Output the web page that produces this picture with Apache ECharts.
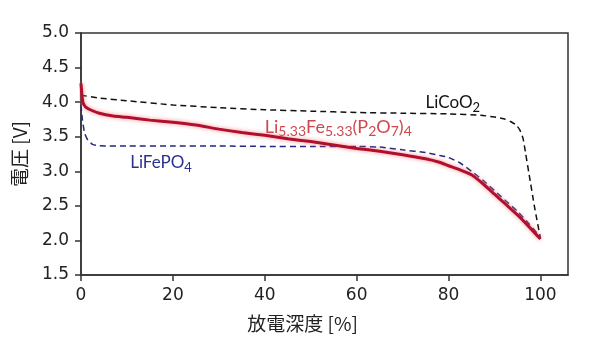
<!DOCTYPE html>
<html><head><meta charset="utf-8">
<script src="https://cdn.jsdelivr.net/npm/echarts@6/dist/echarts.min.js"></script>
<style>html,body{margin:0;padding:0;background:#fff}#c{width:591px;height:341px}</style>
</head><body><div id="c"></div>
<script>
// Discharge depth [%] vs voltage [V]
const licoo2 = [[0,4.10],[4,4.06],[10,4.02],[20,3.96],[30,3.92],[40,3.89],[50,3.87],[60,3.85],[70,3.84],[80,3.83],[87,3.81],[90,3.785],[92,3.76],[93.5,3.72],[94.7,3.67],[95.5,3.60],[96.2,3.48],[96.8,3.25],[97.5,2.97],[98.7,2.49],[100,2.03]];
const lfp = [[0,3.96],[0.3,3.75],[0.8,3.55],[1.5,3.45],[2.5,3.39],[4,3.37],[10,3.365],[20,3.365],[30,3.365],[40,3.36],[50,3.36],[60,3.36],[65,3.35],[70,3.31],[75,3.27],[78,3.23],[80,3.20],[82.5,3.12],[85,3.00],[87.5,2.87],[90,2.72],[92.5,2.57],[95,2.42],[97.5,2.24],[100,2.05]];
const lfpo = [[0,4.27],[0.4,4.00],[1,3.93],[2,3.89],[4,3.84],[7,3.80],[10,3.78],[15,3.74],[20,3.71],[25,3.67],[30,3.61],[35,3.56],[40,3.52],[45,3.47],[50,3.43],[55,3.38],[60,3.33],[65,3.29],[70,3.24],[75,3.18],[78,3.13],[80,3.08],[82.5,3.02],[85,2.95],[87.5,2.82],[90,2.67],[92.5,2.52],[95,2.37],[97.5,2.20],[100,2.02]];
const xTicks = [0,20,40,60,80,100];
const yTicks = [1.5,2.0,2.5,3.0,3.5,4.0,4.5,5.0];
const labelPos = { licoo2: [75, 3.99], lfpo: [40, 3.645], lfp: [10.7, 3.12] };

const chart = echarts.init(document.getElementById('c'), null, {renderer:'canvas'});
const axisCol = '#333';
const lineBase = { type: 'line', showSymbol: false, smooth: 0.2 };
chart.setOption({
  animation: false,
  grid: { left: 81, right: 23, top: 33, bottom: 66, show: true, borderColor: axisCol, borderWidth: 1.5 },
  xAxis: { type: 'value', min: 0, max: 106,
    name: '放電深度 [%]', nameLocation: 'middle', nameGap: 39,
    nameTextStyle: { fontFamily: 'Noto Sans CJK JP', fontSize: 19, color: '#222', padding: [0, 44, 0, 0] },
    axisLine: { show: true, lineStyle: { color: axisCol, width: 1.5 } },
    axisTick: { show: true, inside: false, length: 6, customValues: xTicks, lineStyle: { color: axisCol, width: 1.5 } },
    axisLabel: { customValues: xTicks, margin: 12, fontFamily: 'DejaVu Sans', fontSize: 17, color: '#222' },
    splitLine: { show: false } },
  yAxis: { type: 'value', min: 1.5, max: 5.0, interval: 0.5,
    name: '電圧 [V]', nameLocation: 'middle', nameGap: 52, nameRotate: 90,
    nameTextStyle: { fontFamily: 'Noto Sans CJK JP', fontSize: 19, color: '#222' },
    axisLine: { show: true, lineStyle: { color: axisCol, width: 1.5 } },
    axisTick: { show: true, inside: false, length: 6, customValues: yTicks, lineStyle: { color: axisCol, width: 1.5 } },
    axisLabel: { customValues: yTicks, margin: 12, fontFamily: 'DejaVu Sans', fontSize: 17, color: '#222', formatter: v => v.toFixed(1) },
    splitLine: { show: false } },
  series: [
    Object.assign({ name: 'LiCoO2', data: licoo2, lineStyle: { color: '#111', width: 1.5, type: [6, 4] } }, lineBase),
    Object.assign({ name: 'LiFePO4', data: lfp, lineStyle: { color: '#1f2a80', width: 1.5, type: [6, 4] } }, lineBase),
    Object.assign({ name: 'Li5.33Fe5.33(P2O7)4', data: lfpo,
      lineStyle: { color: '#b01030', width: 3, shadowBlur: 4, shadowColor: 'rgba(255,110,110,0.8)' } }, lineBase)
  ]
});

function ann(pos, text, color, fs, sfs) {
  const p = chart.convertToPixel({ gridIndex: 0 }, pos);
  return { type: 'text', x: p[0], y: p[1], silent: true,
    style: { text: text, fill: color, font: fs + 'px Lato', verticalAlign: 'middle', align: 'left',
      rich: { s: { fill: color, fontFamily: 'Lato', fontSize: sfs, verticalAlign: 'bottom', lineHeight: sfs + 1, padding: [0, 0, -3, 0] } } } };
}
chart.setOption({ graphic: [
  ann(labelPos.licoo2, 'LiCoO{s|2}', '#111', 17, 13),
  ann(labelPos.lfpo, 'Li{s|5.33}Fe{s|5.33}(P{s|2}O{s|7}){s|4}', '#d0484d', 18, 14),
  ann(labelPos.lfp, 'LiFePO{s|4}', '#2b2f8e', 17, 13)
] });
</script></body></html>
